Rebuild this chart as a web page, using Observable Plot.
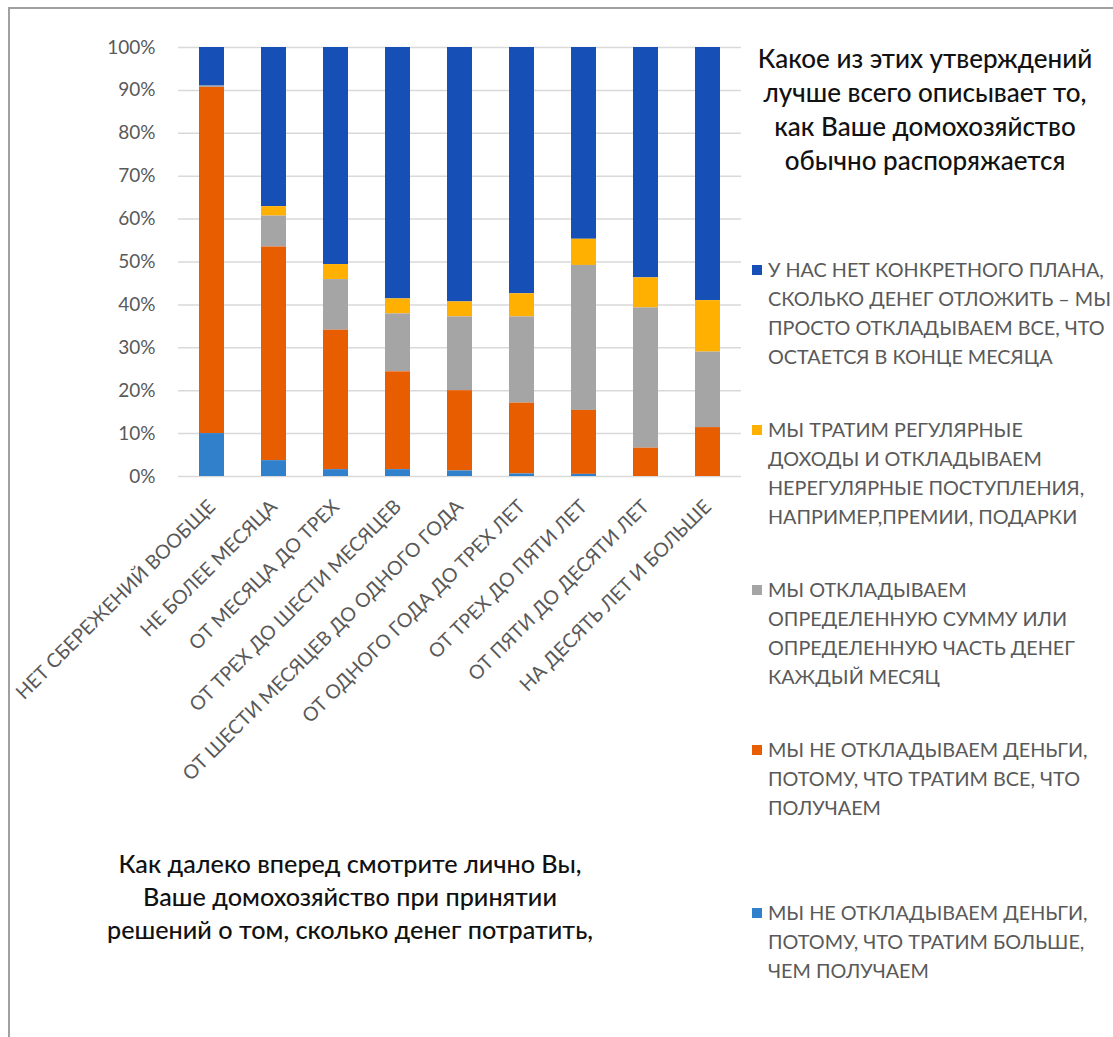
<!DOCTYPE html>
<html>
<head>
<meta charset="utf-8">
<script src="https://cdn.jsdelivr.net/npm/d3@7"></script>
<script src="https://cdn.jsdelivr.net/npm/@observablehq/plot@0.6"></script>
<style>
  html, body { margin: 0; padding: 0; background: #fff; }
  #wrap { position: relative; width: 1113px; height: 1037px; overflow: hidden; font-family: Lato, "Open Sans", sans-serif; }
  #chart { position: absolute; left: 0; top: 0; }
  #border { position: absolute; left: 8px; top: 7px; right: -10px; bottom: -10px; border-left: 2px solid #a0a0a0; border-top: 2px solid #a0a0a0; }
  #titleRight { position: absolute; left: 730px; width: 390px; top: 41px; text-align: center; font-size: 26px; font-weight: 500; line-height: 34px; color: #111; white-space: pre-line; }
  #titleBottom { position: absolute; left: 40px; width: 620px; top: 847px; text-align: center; font-size: 25.2px; font-weight: 500; line-height: 33px; color: #111; white-space: pre-line; }
  .leg { position: absolute; left: 768px; font-size: 19.8px; line-height: 29px; color: #595959; white-space: pre-line; }
  .sw { position: absolute; left: -16px; top: 10px; width: 10px; height: 10px; }
</style>
</head>
<body>
<div id="wrap">
  <div id="chart"></div>
  <div id="border"></div>
  <div id="titleRight"></div>
  <div id="titleBottom"></div>
</div>
<script>
const categories = [
  "НЕТ СБЕРЕЖЕНИЙ ВООБЩЕ",
  "НЕ БОЛЕЕ МЕСЯЦА",
  "ОТ МЕСЯЦА ДО ТРЕХ",
  "ОТ ТРЕХ ДО ШЕСТИ МЕСЯЦЕВ",
  "ОТ ШЕСТИ МЕСЯЦЕВ ДО ОДНОГО ГОДА",
  "ОТ ОДНОГО ГОДА ДО ТРЕХ ЛЕТ",
  "ОТ ТРЕХ ДО ПЯТИ ЛЕТ",
  "ОТ ПЯТИ ДО ДЕСЯТИ ЛЕТ",
  "НА ДЕСЯТЬ ЛЕТ И БОЛЬШЕ"
];
// legend order (top of stack first)
const seriesNames = [
  "У НАС НЕТ КОНКРЕТНОГО ПЛАНА,\nСКОЛЬКО ДЕНЕГ ОТЛОЖИТЬ – МЫ\nПРОСТО ОТКЛАДЫВАЕМ ВСЕ, ЧТО\nОСТАЕТСЯ В КОНЦЕ МЕСЯЦА",
  "МЫ ТРАТИМ РЕГУЛЯРНЫЕ\nДОХОДЫ И ОТКЛАДЫВАЕМ\nНЕРЕГУЛЯРНЫЕ ПОСТУПЛЕНИЯ,\nНАПРИМЕР,ПРЕМИИ, ПОДАРКИ",
  "МЫ ОТКЛАДЫВАЕМ\nОПРЕДЕЛЕННУЮ СУММУ ИЛИ\nОПРЕДЕЛЕННУЮ ЧАСТЬ ДЕНЕГ\nКАЖДЫЙ МЕСЯЦ",
  "МЫ НЕ ОТКЛАДЫВАЕМ ДЕНЬГИ,\nПОТОМУ, ЧТО ТРАТИМ ВСЕ, ЧТО\nПОЛУЧАЕМ",
  "МЫ НЕ ОТКЛАДЫВАЕМ ДЕНЬГИ,\nПОТОМУ, ЧТО ТРАТИМ БОЛЬШЕ,\nЧЕМ ПОЛУЧАЕМ"
];
const seriesColors = ["#164fb5", "#ffb000", "#a5a5a5", "#e85d00", "#3180cc"];
// values in percent, per category
const noPlan      = [9.0, 37.1, 50.6, 58.6, 59.3, 57.4, 44.7, 53.7, 59.0];
const irregular   = [0.0, 2.2, 3.5, 3.5, 3.5, 5.4, 6.1, 7.0, 12.0];
const fixedSum    = [0.3, 7.2, 11.8, 13.5, 17.2, 20.1, 33.8, 32.7, 17.6];
const spendAll    = [80.7, 49.8, 32.5, 22.8, 18.7, 16.5, 14.9, 6.6, 11.4];
const spendMore   = [10.0, 3.7, 1.6, 1.6, 1.3, 0.6, 0.5, 0.0, 0.0];
const seriesValues = [noPlan, irregular, fixedSum, spendAll, spendMore];
const yTicks = [0, 0.1, 0.2, 0.3, 0.4, 0.5, 0.6, 0.7, 0.8, 0.9, 1.0];

const titleRight = "Какое из этих утверждений\nлучше всего описывает то,\nкак Ваше домохозяйство\nобычно распоряжается";
const titleBottom = "Как далеко вперед смотрите лично Вы,\nВаше домохозяйство при принятии\nрешений о том, сколько денег потратить,";

const data = categories.flatMap((c, i) =>
  seriesNames.map((s, j) => ({category: c, series: s, value: seriesValues[j][i] / 100}))
);

const chart = Plot.plot({
  width: 1113,
  height: 1037,
  marginTop: 47,
  marginBottom: 561,
  marginLeft: 178,
  marginRight: 372,
  style: {fontFamily: "Lato, 'Open Sans', sans-serif", background: "transparent"},
  x: {domain: categories, paddingInner: 0.6, paddingOuter: 0.3, label: null},
  y: {domain: [0, 1], label: null},
  color: {domain: seriesNames, range: seriesColors},
  marks: [
    Plot.gridY(yTicks, {stroke: "#d9d9d9", strokeOpacity: 1, strokeWidth: 1.5}),
    Plot.barY(data, {x: "category", y: "value", fill: "series", order: seriesNames.slice().reverse()}),
    Plot.axisY(yTicks, {tickSize: 0, tickPadding: 23, tickFormat: d => Math.round(d * 100) + "%", fontSize: 19, fill: "#595959", label: null}),
    Plot.axisX({tickRotate: -45, tickSize: 0, tickPadding: 27, fontSize: 19.5, fill: "#595959", label: null})
  ]
});
document.getElementById("chart").appendChild(chart);

document.getElementById("titleRight").textContent = titleRight;
document.getElementById("titleBottom").textContent = titleBottom;

const legendTops = [255, 415, 575, 735, 898];
const wrap = document.getElementById("wrap");
seriesNames.forEach((s, j) => {
  const d = document.createElement("div");
  d.className = "leg";
  d.style.top = legendTops[j] + "px";
  d.textContent = s;
  const sw = document.createElement("span");
  sw.className = "sw";
  sw.style.background = seriesColors[j];
  d.appendChild(sw);
  wrap.appendChild(d);
});
</script>
</body>
</html>
